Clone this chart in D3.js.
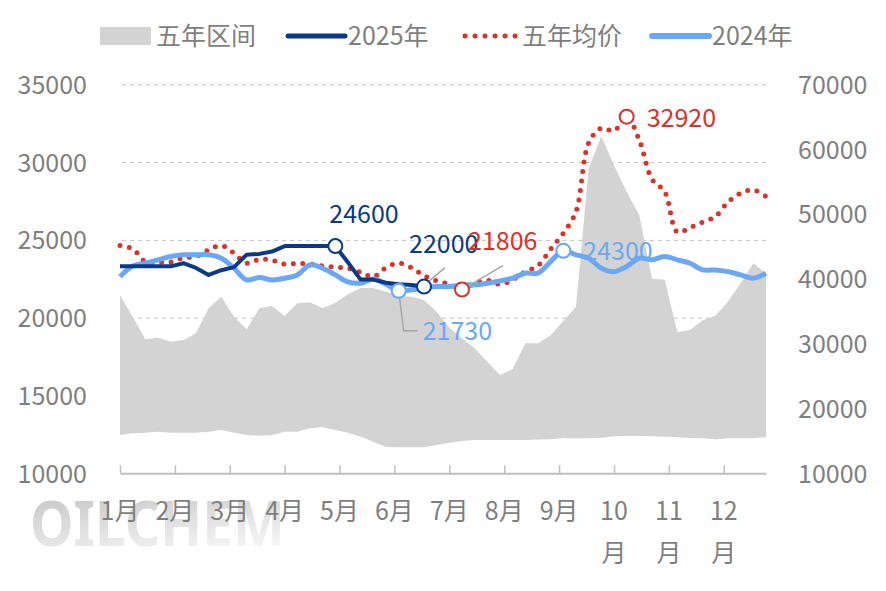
<!DOCTYPE html>
<html>
<head>
<meta charset="utf-8">
<script src="https://cdn.jsdelivr.net/npm/d3@7"></script>
<style>
  body { margin: 0; background: #fff; }
  text { font-family: "Noto Sans CJK SC", "Noto Sans", sans-serif; }
</style>
</head>
<body>
<div class="chart"></div>
<script>
// DATA ------------------------------------
const months = ['1月', '2月', '3月', '4月', '5月', '6月', '7月', '8月', '9月', '10月', '11月', '12月']
const leftTicks = [10000, 15000, 20000, 25000, 30000, 35000]
const rightTicks = [10000, 20000, 30000, 40000, 50000, 60000, 70000]

// weekly values, week 0 .. 51
const y2025 = [23300, 23300, 23300, 23300, 23300, 23500, 23200, 22750, 23050, 23250,
  24050, 24100, 24250, 24600, 24600, 24600, 24600, 24600, 23550, 22450,
  22450, 22250, 22150, 22100, 22000]

const y2024 = [22640, 23330, 23500, 23720, 23930, 24040, 24040, 24040, 23820, 23180,
  22430, 22580, 22430, 22540, 22750, 23390, 23180, 22750, 22300, 22220,
  22480, 22150, 21730, 21790, 21900, 22000, 22000, 22110, 22110, 22220,
  22370, 22540, 22860, 22860, 23610, 24300, 24040, 23820, 23180, 22960,
  23290, 23820, 23720, 23930, 23720, 23500, 23070, 23070, 22960, 22750,
  22540, 22860]

const avg5 = [24640, 24420, 23610, 23570, 23570, 23860, 23930, 24360, 24640, 24150,
  23500, 23760, 23700, 23440, 23480, 23460, 23330, 23250, 23180, 22920,
  22640, 23220, 23500, 23220, 22700, 22370, 22150, 21806, 22220, 22410,
  22150, 22430, 22960, 23350, 24400, 25430, 26820, 31220, 32180, 32010,
  32920, 31400, 28900, 28100, 25500, 25790, 26140, 26500, 27430, 28000,
  28220, 27790]

// five-year range (right axis)
const rangeMax = [37490, 34150, 30660, 30910, 30300, 30560, 31590, 35440, 37240, 34150,
  32210, 35440, 35800, 34260, 36210, 36370, 35440, 36300, 37600, 38600,
  38600, 38000, 37400, 37240, 36720, 34920, 32450, 30820, 29280, 27210,
  25160, 26080, 30050, 30050, 31300, 33500, 35700, 57000, 62000, 57500,
  53400, 49800, 40000, 39900, 31800, 32100, 33600, 34300, 36500, 39300,
  42400, 40800]
const rangeMin = [15900, 16170, 16260, 16420, 16260, 16260, 16260, 16420, 16680, 16260,
  15910, 15800, 15910, 16420, 16420, 16940, 17090, 16680, 16260, 15640,
  14870, 14050, 14000, 14000, 14000, 14370, 14720, 14980, 15130, 15130,
  15130, 15130, 15130, 15200, 15240, 15400, 15350, 15400, 15500, 15700,
  15750, 15750, 15700, 15640, 15550, 15450, 15400, 15250, 15400, 15400,
  15400, 15600]

// highlighted points: series, week, value, label offset
const callouts = [
  { s: '2025', w: 17, v: 24600, dx: -6, dy: -23 },
  { s: '2025', w: 24, v: 22000, dx: -15, dy: -34, lead: [[2, -3], [21, -19]] },
  { s: 'avg', w: 27, v: 21806, dx: 6, dy: -40, lead: [[0, 0], [41, -24]] },
  { s: 'avg', w: 40, v: 32920, dx: 20, dy: 10 },
  { s: '2024', w: 35, v: 24300, dx: 20, dy: 9 },
  { s: '2024', w: 22, v: 21730, dx: 24, dy: 49, lead: [[0, 0], [5, 40], [19, 40]] }
]

const colors = { range: '#d3d3d3', '2025': '#0a3a86', avg: '#d8322a', '2024': '#6aa8f7' }
const grey = '#7f7f7f'

// CHART INIT ------------------------------
const W = 886, H = 591
const plotLeft = 120, plotRight = 766, plotTop = 84.3, plotBottom = 473.3

const svg = d3.select('.chart')
  .append('svg')
  .attr('width', W)
  .attr('height', H)

const x = d3.scaleLinear().domain([0, 51]).range([plotLeft, plotRight])
const yL = d3.scaleLinear().domain([10000, 35000]).range([plotBottom, plotTop])
const yR = d3.scaleLinear().domain([10000, 70000]).range([plotBottom, plotTop])

// watermark
const defs = svg.append('defs')
const grad = defs.append('linearGradient')
  .attr('id', 'wm')
  .attr('x1', 0).attr('y1', 0).attr('x2', 0.35).attr('y2', 1)
grad.append('stop').attr('offset', '0%').attr('stop-color', '#bdbdbd')
grad.append('stop').attr('offset', '100%').attr('stop-color', '#f6f6f6')

svg.append('text')
  .attr('x', 30)
  .attr('y', 546)
  .attr('font-size', 63)
  .attr('font-weight', 'bold')
  .attr('textLength', 255)
  .attr('lengthAdjust', 'spacingAndGlyphs')
  .attr('fill', 'url(#wm)')
  .style('font-family', '"Noto Sans", sans-serif')
  .text('OILCHEM')

// gridlines
svg.append('g')
  .attr('transform', `translate(${plotLeft},0)`)
  .call(d3.axisLeft(yL).tickValues(leftTicks.slice(1)).tickSize(-(plotRight - plotLeft)).tickFormat(''))
  .call(g => g.select('.domain').remove())
  .selectAll('line')
  .attr('x1', 2)
  .attr('stroke', '#c4c4c4')
  .attr('stroke-dasharray', '4,4')

// five-year range area
const weeks = d3.range(rangeMax.length)
svg.append('path')
  .datum(weeks)
  .attr('fill', colors.range)
  .attr('d', d3.area()
    .x(i => x(i))
    .y0(i => yR(rangeMin[i]))
    .y1(i => yR(rangeMax[i])))

// x axis
svg.append('g')
  .attr('transform', `translate(0,${plotBottom})`)
  .call(d3.axisBottom(x)
    .tickValues(months.map((m, i) => i * 52 / 12))
    .tickSizeInner(-8)
    .tickSizeOuter(0)
    .tickFormat(''))
  .call(g => g.select('.domain').attr('stroke', '#bfbfbf').attr('stroke-width', 2))
  .call(g => g.selectAll('line').attr('stroke', '#bfbfbf').attr('stroke-width', 1.5))

const monthLabels = svg.append('g')
  .selectAll('text')
  .data(months)
  .enter()
  .append('text')
  .attr('text-anchor', 'middle')
  .attr('fill', grey)
  .attr('font-size', 25)
  .attr('y', 520)
monthLabels.each(function (m, i) {
  const t = d3.select(this)
  const cx = x(i * 52 / 12)
  if (m.length > 2) {
    t.append('tspan').attr('x', cx).text(m.slice(0, -1))
    t.append('tspan').attr('x', cx).attr('dy', 42).text(m.slice(-1))
  } else {
    t.attr('x', cx).text(m)
  }
})

// y axes labels
svg.append('g')
  .attr('transform', `translate(${plotLeft},0)`)
  .call(d3.axisLeft(yL).tickValues(leftTicks).tickSize(0).tickPadding(33).tickFormat(d3.format('d')))
  .call(g => g.select('.domain').remove())
  .selectAll('text')
  .attr('fill', grey)
  .attr('font-size', 25)
  .attr('dy', '0.36em')

svg.append('g')
  .attr('transform', `translate(${plotRight},0)`)
  .call(d3.axisRight(yR).tickValues(rightTicks).tickSize(0).tickPadding(32).tickFormat(d3.format('d')))
  .call(g => g.select('.domain').remove())
  .selectAll('text')
  .attr('fill', grey)
  .attr('font-size', 25)
  .attr('dy', '0.36em')

svg.selectAll('.tick text').style('font-family', '"Noto Sans CJK SC", sans-serif')

// lines
const smooth = d3.line().x((d, i) => x(i)).y(d => yL(d)).curve(d3.curveCatmullRom.alpha(0.5))
const straight = d3.line().x((d, i) => x(i)).y(d => yL(d))

svg.append('path')
  .datum(avg5)
  .attr('fill', 'none')
  .attr('stroke', colors.avg)
  .attr('stroke-width', 5)
  .attr('stroke-linecap', 'round')
  .attr('stroke-dasharray', '0,9.5')
  .attr('d', smooth)

svg.append('path')
  .datum(y2024)
  .attr('fill', 'none')
  .attr('stroke', colors['2024'])
  .attr('stroke-width', 5)
  .attr('stroke-linejoin', 'round')
  .attr('d', smooth)

svg.append('path')
  .datum(y2025)
  .attr('fill', 'none')
  .attr('stroke', colors['2025'])
  .attr('stroke-width', 4)
  .attr('stroke-linejoin', 'round')
  .attr('d', straight)

// callouts
callouts.forEach(c => {
  const px = x(c.w), py = yL(c.v)
  if (c.lead) {
    svg.append('path')
      .attr('fill', 'none')
      .attr('stroke', '#a6a6a6')
      .attr('stroke-width', 1.5)
      .attr('d', d3.line()(c.lead.map(p => [px + p[0], py + p[1]])))
  }
})
callouts.forEach(c => {
  const px = x(c.w), py = yL(c.v)
  svg.append('circle')
    .attr('cx', px)
    .attr('cy', py)
    .attr('r', 7)
    .attr('fill', '#fff')
    .attr('stroke', colors[c.s])
    .attr('stroke-width', 2)
})
callouts.forEach(c => {
  svg.append('text')
    .attr('x', x(c.w) + c.dx)
    .attr('y', yL(c.v) + c.dy)
    .attr('fill', colors[c.s])
    .attr('font-size', 25)
    .text(c.v)
})

// legend
const legend = [
  { key: 'range', name: '五年区间', x: 100 },
  { key: '2025', name: '2025年', x: 288 },
  { key: 'avg', name: '五年均价', x: 462 },
  { key: '2024', name: '2024年', x: 652 }
]
const lg = svg.append('g')
legend.forEach(l => {
  if (l.key === 'range') {
    lg.append('rect').attr('x', l.x).attr('y', 27).attr('width', 51).attr('height', 18).attr('fill', colors.range)
  } else if (l.key === 'avg') {
    lg.append('line').attr('x1', l.x + 3).attr('x2', l.x + 54).attr('y1', 36).attr('y2', 36)
      .attr('stroke', colors.avg).attr('stroke-width', 5).attr('stroke-linecap', 'round').attr('stroke-dasharray', '0,10')
  } else {
    lg.append('line').attr('x1', l.x).attr('x2', l.x + 57).attr('y1', 36).attr('y2', 36)
      .attr('stroke', colors[l.key]).attr('stroke-width', l.key === '2025' ? 5 : 6).attr('stroke-linecap', 'round')
  }
  lg.append('text')
    .attr('x', l.x + (l.key === 'range' ? 56 : 60))
    .attr('y', 45)
    .attr('fill', grey)
    .attr('font-size', 25)
    .text(l.name)
})
</script>
</body>
</html>
